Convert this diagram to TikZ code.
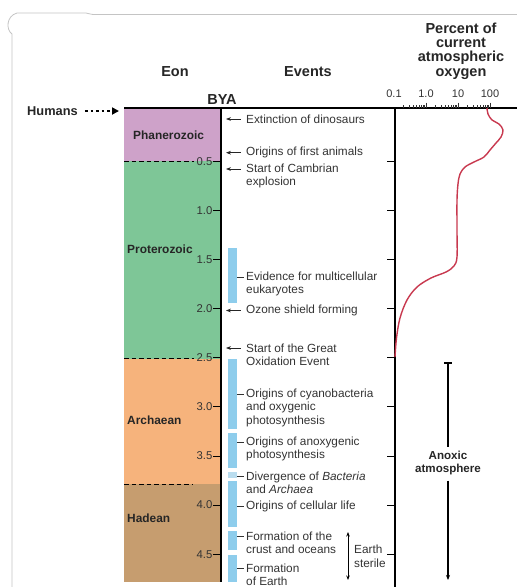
\documentclass[tikz,border=0pt]{standalone}
\usepackage{fontspec}
\setmainfont{Liberation Sans}
\usetikzlibrary{arrows.meta}
\definecolor{phan}{HTML}{CEA2C9}
\definecolor{prot}{HTML}{7EC697}
\definecolor{arch}{HTML}{F6B37C}
\definecolor{hade}{HTML}{C69D6F}
\definecolor{barc}{HTML}{8ECDEC}
\definecolor{barl}{HTML}{BADDEF}
\definecolor{oxred}{HTML}{C8394F}
\definecolor{txt}{HTML}{333333}
\definecolor{frame}{HTML}{C4C4C4}
\tikzset{
  evtext/.style={anchor=west, inner sep=0pt, align=left, text=txt, font=\fontsize{11.8}{13.6}\selectfont},
  hdr/.style={inner sep=0pt, align=center, text=black!85, font=\bfseries\fontsize{14.5}{14.3}\selectfont},
  eonlab/.style={anchor=west, inner sep=0pt, text=black!85, font=\bfseries\fontsize{11.9}{13}\selectfont},
  ticklab/.style={anchor=east, inner sep=0pt, text=txt, font=\fontsize{11.3}{12}\selectfont},
  scalelab/.style={inner sep=0pt, text=txt, font=\fontsize{11}{12}\selectfont},
  evarrow/.style={-{Stealth[length=5pt,width=3.8pt]}, line width=0.8pt, draw=black!85},
  evdash/.style={line width=0.8pt, draw=black!80},
  barst/.style={fill=barc, draw=none, minimum width=9pt, inner sep=0pt},
  eondash/.style={line width=1pt, dash pattern=on 4.5pt off 3pt},
  ticks/.style={line width=1pt},
}
\newcommand\mybar[4][barc]{\node[barst, fill=#1, minimum height={(#4-#3)*1pt}] (#2) at (232.5,{(#3+#4)/2}) {};}
\begin{document}
\begin{tikzpicture}[x=1pt,y=-1pt]
\useasboundingbox (0,0) rectangle (517,587);
% frame
\draw[frame, line width=0.8pt] (12,587) -- (12,34) .. controls (6,30) and (6,16) .. (17,13) -- (86,13) .. controls (88,13) and (90,14.5) .. (93,14.5) -- (517,14.5);
% eon blocks
\fill[phan] (124,108) rectangle (221,161.4);
\fill[prot] (124,161.4) rectangle (221,358.5);
\fill[arch] (124,358.5) rectangle (221,484);
\fill[hade] (124,484) rectangle (221,582);
\draw[eondash] (124,161.4) -- (194,161.4);
\draw[eondash] (124,358.5) -- (194,358.5);
\draw[eondash] (124,484) -- (193,484);
% axes
\draw[line width=1.2pt] (221,108) -- (221,582);
\draw[line width=1.2pt] (395,108) -- (395,587);
\draw[line width=1.5pt] (124,108) -- (517,108);
% ticks on BYA column and oxygen axis
\foreach \t/\l in {0.5/0.5,1.0/1.0,1.5/1.5,2.0/2.0,2.5/2.5,3.0/3.0,3.5/3.5,4.0/4.0,4.5/4.5}{
  \pgfmathsetmacro\yy{112.3+98.2*\t}
  \draw[ticks] (213,\yy) -- (221,\yy);
  \node[ticklab] at (212.5,\yy) {\l};
  \draw[ticks] (387,\yy) -- (395,\yy);
}
% log scale
\foreach \d in {0,1,2}{
  \foreach \k in {2,...,9}{
    \pgfmathsetmacro\xx{394+32*(\d+log10(\k))}
    \draw[line width=0.5pt, txt] (\xx,105) -- (\xx,108);
  }
  \pgfmathsetmacro\xx{394+32*(\d+1)}
  \draw[line width=0.7pt, txt] (\xx,102.5) -- (\xx,108);
}
\node[scalelab] (s1) at (394,94) {0.1};
\node[scalelab] (s2) at (426,94) {1.0};
\node[scalelab] (s3) at (458,94) {10};
\node[scalelab] (s4) at (490,94) {100};
% headers
\node[hdr] (heon) at (175,72) {Eon};
\node[hdr] (hev) at (308,72) {Events};
\node[hdr] (hbya) at (222,100) {BYA};
\node[hdr] (hox) at (461,51) {Percent of\\current\\atmospheric\\oxygen};
% humans
\node[anchor=west, inner sep=0pt, font=\bfseries\fontsize{12.8}{13}\selectfont, text=black!85] (hum) at (27,111) {Humans};
\coordinate (humtip) at (119,111);
\draw[line width=2.2pt, dash pattern=on 2.6pt off 3pt, -{Triangle[length=7pt,width=7pt]}] ([xshift=7pt]hum.east) -- (humtip);
% eon labels
\node[eonlab] (lphan) at (133,135) {Phanerozoic};
\node[eonlab] (lprot) at (127,249) {Proterozoic};
\node[eonlab] (larch) at (127,420) {Archaean};
\node[eonlab] (lhad) at (127,518) {Hadean};
% bars
\mybar{b1}{248}{303}
\mybar{b2}{359}{429}
\mybar{b3}{433}{468}
\mybar[barl]{b4}{472}{478}
\mybar{b5}{481}{527}
\mybar{b6}{531}{550}
\mybar{b7}{555}{582}
% events
\node[evtext] (e1) at (246,119) {Extinction of dinosaurs};
\node[evtext] (e2) at (246,152.7) {Origins of first animals};
\node[evtext] (e3) at (246,175.8) {Start of Cambrian\\explosion};
\node[evtext] (e4) at (246,283.8) {Evidence for multicellular\\eukaryotes};
\node[evtext] (e5) at (246,310.5) {Ozone shield forming};
\node[evtext] (e6) at (246,354.8) {Start of the Great\\Oxidation Event};
\node[evtext] (e7) at (246,407.6) {Origins of cyanobacteria\\and oxygenic\\photosynthesis};
\node[evtext] (e8) at (246,448.8) {Origins of anoxygenic\\photosynthesis};
\node[evtext] (e9) at (246,482.8) {Divergence of \textit{Bacteria}\\and \textit{Archaea}};
\node[evtext] (e10) at (246,506) {Origins of cellular life};
\node[evtext] (e11) at (246,542.8) {Formation of the\\crust and oceans};
\node[evtext] (e12) at (246,574.8) {Formation\\of Earth};
% arrows to the time line
\coordinate (a1) at (226,119);
\coordinate (a2) at (226,152.7);
\coordinate (a3) at (226,169);
\coordinate (a5) at (226,310.5);
\coordinate (a6) at (226,348);
\foreach \e/\a in {e1/a1,e2/a2,e3/a3,e5/a5,e6/a6}{
  \draw[evarrow] ([xshift=-5.5pt]\e.west |- \a) -- (\a);
}
% dashes from bars
\coordinate (c4) at (244,277);
\coordinate (c7) at (244,394);
\coordinate (c8) at (244,442);
\coordinate (c9) at (244,476);
\coordinate (c10) at (244,506);
\coordinate (c11) at (244,536);
\coordinate (c12) at (244,568);
\foreach \b/\c in {b1/c4,b2/c7,b3/c8,b4/c9,b5/c10,b6/c11,b7/c12}{
  \draw[evdash] (\b.east |- \c) -- (\c);
}
% Earth sterile
\coordinate (es1) at (348,532);
\coordinate (es2) at (348,580);
\draw[line width=0.9pt, {Stealth[length=4.5pt,width=3.5pt]}-{Stealth[length=4.5pt,width=3.5pt]}] (es1) -- (es2);
\node[evtext] (esl) at (354,556.5) {Earth\\sterile};
% Anoxic atmosphere
\coordinate (ax1) at (448,363);
\coordinate (ax2) at (448,580);
\draw[line width=1.1pt] (444,363) -- (452,363);
\node[align=center, inner sep=0pt, text=black!85, font=\bfseries\fontsize{11.6}{13.8}\selectfont] (anox) at (448,463) {Anoxic\\atmosphere};
\draw[line width=1.1pt] (ax1) -- ([yshift=4pt]anox.north);
\draw[line width=1.1pt, -{Stealth[length=5pt,width=4pt]}] ([yshift=-5pt]anox.south) -- (ax2);
% oxygen curve
\draw[oxred, line width=1.4pt] plot[smooth, tension=0.55] coordinates {
 (487,108) (488,114) (492,120) (499,124) (503,130) (501,137) (496,143) (490,150) (484,157)
 (474,162) (465,167) (460,174) (458,184) (457,200) (457,230) (457,257) (454,266)
 (446,272) (431,278) (417,287) (407,300) (400,318) (396.5,338) (395,357)};
\end{tikzpicture}
\end{document}
